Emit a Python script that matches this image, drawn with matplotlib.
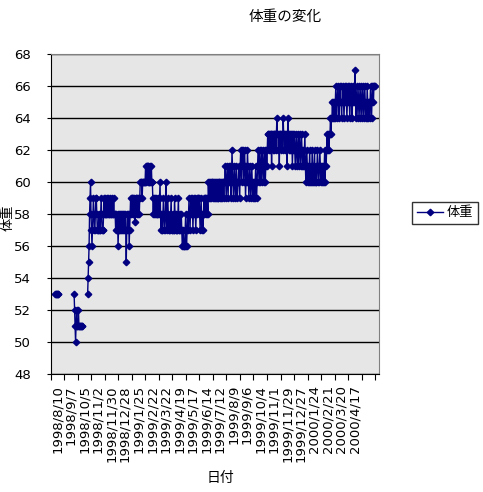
import numpy as np
import matplotlib
matplotlib.use("Agg")
import matplotlib.pyplot as plt

plt.rcParams['font.family'] = ['DejaVu Sans', 'Noto Sans CJK JP']
jp = ['Noto Sans CJK JP', 'DejaVu Sans']

nan = np.nan

# 毎日の体重 (1行 = 28日, 空きは nan)
rows = [
    [nan]*9 + [53]*7 + [nan]*12,
    [nan]*20 + [53, 52, 51, 50, 51, 52, 51, 51],
    [51, 52, 51, 51, 51, 51, 51, 51, 51, 51] + [nan]*10 + [53, 54, 55, 56, 58, 59, 60, 58],
    [57, 56, 57, 58, 59, 58, 57, 57, 58, 59, 59, 58, 57, 57, 57, 58, 57, 57, 57, 58, 59, 58, 57, 57, 57, 58, 59, 58],
    [58, 59, 58, 58, 59, 58, 58, 59, 58, 58, 58, 59, 58, 58, 59, 58, 58, 58, 59, 58, 58, 58, 57, 58, 57, 57, 58, 56],
    [57, 58, 57, 57, 58, 58, 57, 58, 57, 57, 58, 58, 57, 58, 57, 57, 55, 57, 58, 58, 57, 58, 56, 57, 58, 59, 58, 59],
    [59, 58, 59, 58, 58, 59, 57.5, 58, 59, 59, 58, 59, 58, 59, 59, 58, 59, 60, 60, 60, 60, 59, 60, 60, 60, 60, 60, 60],
    [61, 60, 61, 61, 60, 61, 61, 60, 60, 61, 60, 60, 61, 60, 60, 59, 58, 59, 58, 58, 59, 58, 59, 58, 58, 59, 58, 59],
    [58, 59, 60, 58, 57, 58, 57, 57, 58, 59, 58, 57, 57, 58, 60, 58, 57, 58, 59, 58, 57, 57, 58, 57, 58, 59, 57, 57],
    [57, 58, 57, 57, 59, 58, 57, 57, 58, 57, 57, 58, 59, 57, 57, 58, 57, 57, 58, 57, 56, 56, 57, 56, 56, 56, 57, 58],
    [56, 56, 57, 58, 57, 58, 59, 58, 57, 58, 59, 58, 58, 59, 57, 58, 59, 58, 59, 58, 57, 58, 59, 58, 59, 59, 58, 59],
    [58, 57, 58, 59, 58, 57, 58, 57, 58, 59, 58, 59, 59, 58, 59, 58, 59, 58, 60, 59, 60, 60, 59, 60, 59, 60, 60, 59],
    [60, 59, 60, 60, 59, 59, 60, 60, 59, 60, 59, 59, 60, 60, 59, 60, 60, 59, 60, 59, 60, 60, 59, 60, 60, 61, 60, 59],
    [60, 61, 60, 59, 61, 60, 60, 61, 60, 59, 60, 62, 61, 60, 59, 60, 61, 60, 59, 60, 61, 60, 59, 60, 60, 61, 60, 59],
    [61, 62, 61, 60, 62, 61, 62, 60, 61, 62, 61, 59, 60, 61, 60, 62, 61, 60, 59, 60, 61, 60, 59, 60, 61, 60, 59, 60],
    [59, 60, 59, 60, 61, 60, 59, 60, 61, 62, 61, 60, 62, 61, 60, 61, 62, 60, 61, 62, 61, 60, 61, 62, 60, 61, 62, 61],
    [62, 63, 63, 62, 63, 63, 62, 63, 63, 61, 63, 62, 63, 63, 62, 63, 63, 63, 62, 63, 64, 63, 63, 62, 63, 61, 63, 63],
    [63, 62, 63, 63, 62, 64, 63, 63, 62, 63, 63, 62, 63, 61, 63, 64, 63, 62, 63, 63, 62, 63, 62, 63, 61, 62, 63, 62],
    [63, 62, 61, 62, 63, 62, 61, 62, 63, 61, 62, 63, 62, 61, 62, 63, 62, 61, 61, 62, 61, 62, 63, 61, 60, 61, 62, 61],
    [60, 61, 60, 61, 62, 60, 60, 61, 60, 62, 61, 60, 60, 61, 62, 60, 61, 60, 60, 61, 62, 61, 60, 60, 61, 62, 61, 60],
    [61, 60, 61, 60, 61, 60, 61, 62, 60, 62, 61, 62, 63, 62, 63, 63, 62, 63, 63, 64, 63, 64, 64, 65, 64, 65, 64, 65],
    [64, 65, 66, 65, 64, 65, 66, 65, 65, 64, 66, 65, 66, 65, 64, 65, 65, 66, 65, 64, 65, 66, 65, 66, 65, 64, 65, 66],
    [65, 66, 65, 64, 65, 66, 65, 65, 64, 66, 65, 66, 65, 65, 67, 65, 64, 65, 66, 65, 64, 65, 66, 65, 64, 65, 66, 65],
    [64, 65, 66, 65, 64, 65, 66, 65, 64, 65, 64, 66, 65, 64, 65, 65, 64, 65, 66, 65, 64, 65, 66, 66, 65, 66, 66, 66],
]
weight = np.array(sum(rows, []), dtype=float)

date_labels = ["1998/8/10", "1998/9/7", "1998/10/5", "1998/11/2", "1998/11/30",
               "1998/12/28", "1999/1/25", "1999/2/22", "1999/3/22", "1999/4/19",
               "1999/5/17", "1999/6/14", "1999/7/12", "1999/8/9", "1999/9/6",
               "1999/10/4", "1999/11/1", "1999/11/29", "1999/12/27", "2000/1/24",
               "2000/2/21", "2000/3/20", "2000/4/17"]
n_days = 680
step = 28

fig = plt.figure(figsize=(4.83, 4.92), dpi=100)
ax = fig.add_axes([50.7/483, 1-374/492, (379-50.7)/483, (374-54)/492])
ax.set_facecolor('#e6e6e6')

x = np.arange(len(weight)) + 0.5
ax.plot(x, weight, color='#000080', marker='D', ms=3.3, lw=1.0, label='体重')

ax.set_xlim(0, n_days)
ax.set_ylim(48, 68)
ax.set_yticks(range(48, 69, 2))
ax.yaxis.grid(True, color='black', lw=1)
ax.set_axisbelow(True)

ax.set_xticks(range(0, n_days, step))
ax.set_xticklabels([])
ax.set_xticks([step*i + step/2 for i in range(len(date_labels))], minor=True)
ax.set_xticklabels(date_labels, minor=True, rotation=90, va='top', ha='center', fontsize=9.5)
ax.tick_params(axis='x', which='major', length=4, direction='out')
ax.tick_params(axis='x', which='minor', length=0, pad=8)
ax.tick_params(axis='y', length=3, direction='out', labelsize=9.5, pad=11)

for s in ['top', 'right']:
    ax.spines[s].set_color('#808080')
for s in ['left', 'bottom']:
    ax.spines[s].set_color('black')

fig.text(285/483, 1-17/492, '体重の変化', ha='center', va='center', fontsize=10.5, family=jp)
fig.text(220/483, 1-478/492, '日付', ha='center', va='center', fontsize=10, family=jp)
fig.text(8/483, 1-218/492, '体重', ha='center', va='center', rotation=90, fontsize=9.5, family=jp)

leg = fig.legend(loc='center left', bbox_to_anchor=(412/483, 1-213/492), frameon=True,
                 fancybox=False, edgecolor='black', prop={'family': jp, 'size': 9.5},
                 handlelength=2.0, borderpad=0.35, handletextpad=0.3, borderaxespad=0)
leg.get_frame().set_linewidth(1)

fig.savefig('out.png', dpi=100)
